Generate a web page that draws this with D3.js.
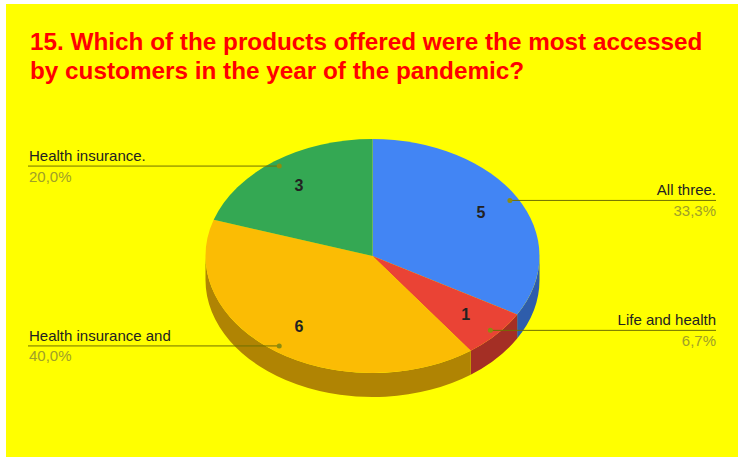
<!DOCTYPE html>
<html>
<head>
<meta charset="utf-8">
<script src="https://cdn.jsdelivr.net/npm/d3@7"></script>
<style>
  html, body { margin: 0; padding: 0; background: #ffffff; }
  svg { display: block; }
  text { font-family: "Liberation Sans", Arial, sans-serif; }
</style>
</head>
<body>
<svg id="chart" width="738" height="458"></svg>
<script>
// Survey answers and counts
const categories = ["All three.", "Life and health", "Health insurance and", "Health insurance."];
const values = [5, 1, 6, 3];
const colors = ["#4285f4", "#ea4335", "#fbbc04", "#34a853"];
const titleLines = [
  "15. Which of the products offered were the most accessed",
  "by customers in the year of the pandemic?"
];

const W = 738, H = 458;
const svg = d3.select("#chart");

// Background panel
svg.append("rect")
  .attr("x", 6).attr("y", 4)
  .attr("width", W - 6).attr("height", H - 5)
  .attr("fill", "#ffff00");

// Title
svg.append("g").selectAll("text")
  .data(titleLines)
  .join("text")
  .attr("x", 30)
  .attr("y", (d, i) => 50 + i * 29.3)
  .attr("fill", "#ff0000")
  .attr("font-weight", "bold")
  .attr("font-size", "24.3px")
  .text(d => d);

// Tilted pie geometry
const cx = 372.5, cy = 256, rx = 167, ry = 117, depth = 24;
const total = d3.sum(values);
const pie = d3.pie().sort(null).value(d => d)(values);

const px = (a, f) => cx + rx * f * Math.sin(a);
const py = (a, f) => cy - ry * f * Math.cos(a);

const shade = c => {
  const k = d3.rgb(c);
  return d3.rgb(k.r * 0.7, k.g * 0.7, k.b * 0.7).formatHex();
};

// Side walls (only the front half of the rim is visible)
const sides = svg.append("g");
pie.forEach((s, i) => {
  const a0 = Math.max(s.startAngle, Math.PI / 2);
  const a1 = Math.min(s.endAngle, 3 * Math.PI / 2);
  if (a1 <= a0) return;
  const large = (a1 - a0) > Math.PI ? 1 : 0;
  const p = d3.path();
  p.moveTo(px(a0, 1), py(a0, 1));
  const d = `M${px(a0,1)},${py(a0,1)}` +
    `A${rx},${ry} 0 ${large} 1 ${px(a1,1)},${py(a1,1)}` +
    `L${px(a1,1)},${py(a1,1) + depth}` +
    `A${rx},${ry} 0 ${large} 0 ${px(a0,1)},${py(a0,1) + depth}Z`;
  sides.append("path").attr("d", d).attr("fill", shade(colors[i]));
});

// Top faces: unit arcs stretched into an ellipse
const arc = d3.arc().innerRadius(0).outerRadius(1);
svg.append("g")
  .attr("transform", `translate(${cx},${cy}) scale(${rx},${ry})`)
  .selectAll("path")
  .data(pie)
  .join("path")
  .attr("d", arc)
  .attr("fill", (d, i) => colors[i]);

// Value labels inside slices
svg.append("g").selectAll("text")
  .data(pie)
  .join("text")
  .attr("x", d => px((d.startAngle + d.endAngle) / 2, 0.75))
  .attr("y", d => py((d.startAngle + d.endAngle) / 2, 0.75) + 5.5)
  .attr("text-anchor", "middle")
  .attr("font-weight", "bold")
  .attr("font-size", "16px")
  .attr("fill", "#222222")
  .text(d => d.data);

// Leader lines with category names and shares
const fmt = v => (v / total * 100).toFixed(1).replace(".", ",") + "%";
const leaders = svg.append("g");
pie.forEach((s, i) => {
  const m = (s.startAngle + s.endAngle) / 2;
  const dx = px(m, 0.95), dy = py(m, 0.95);
  const right = Math.sin(m) > 0;
  const ex = right ? 716 : 28;
  leaders.append("line")
    .attr("x1", dx).attr("y1", dy).attr("x2", ex).attr("y2", dy)
    .attr("stroke", "#707000").attr("stroke-width", 1);
  leaders.append("circle")
    .attr("cx", dx).attr("cy", dy).attr("r", 2.5)
    .attr("fill", "#8c8c10");
  leaders.append("text")
    .attr("x", right ? 716 : 29).attr("y", dy - 5)
    .attr("text-anchor", right ? "end" : "start")
    .attr("font-size", "15px")
    .attr("fill", "#222222")
    .text(categories[i]);
  leaders.append("text")
    .attr("x", right ? 716 : 29).attr("y", dy + 15.5)
    .attr("text-anchor", right ? "end" : "start")
    .attr("font-size", "15px")
    .attr("fill", "#a0a028")
    .text(fmt(s.data));
});
</script>
</body>
</html>
